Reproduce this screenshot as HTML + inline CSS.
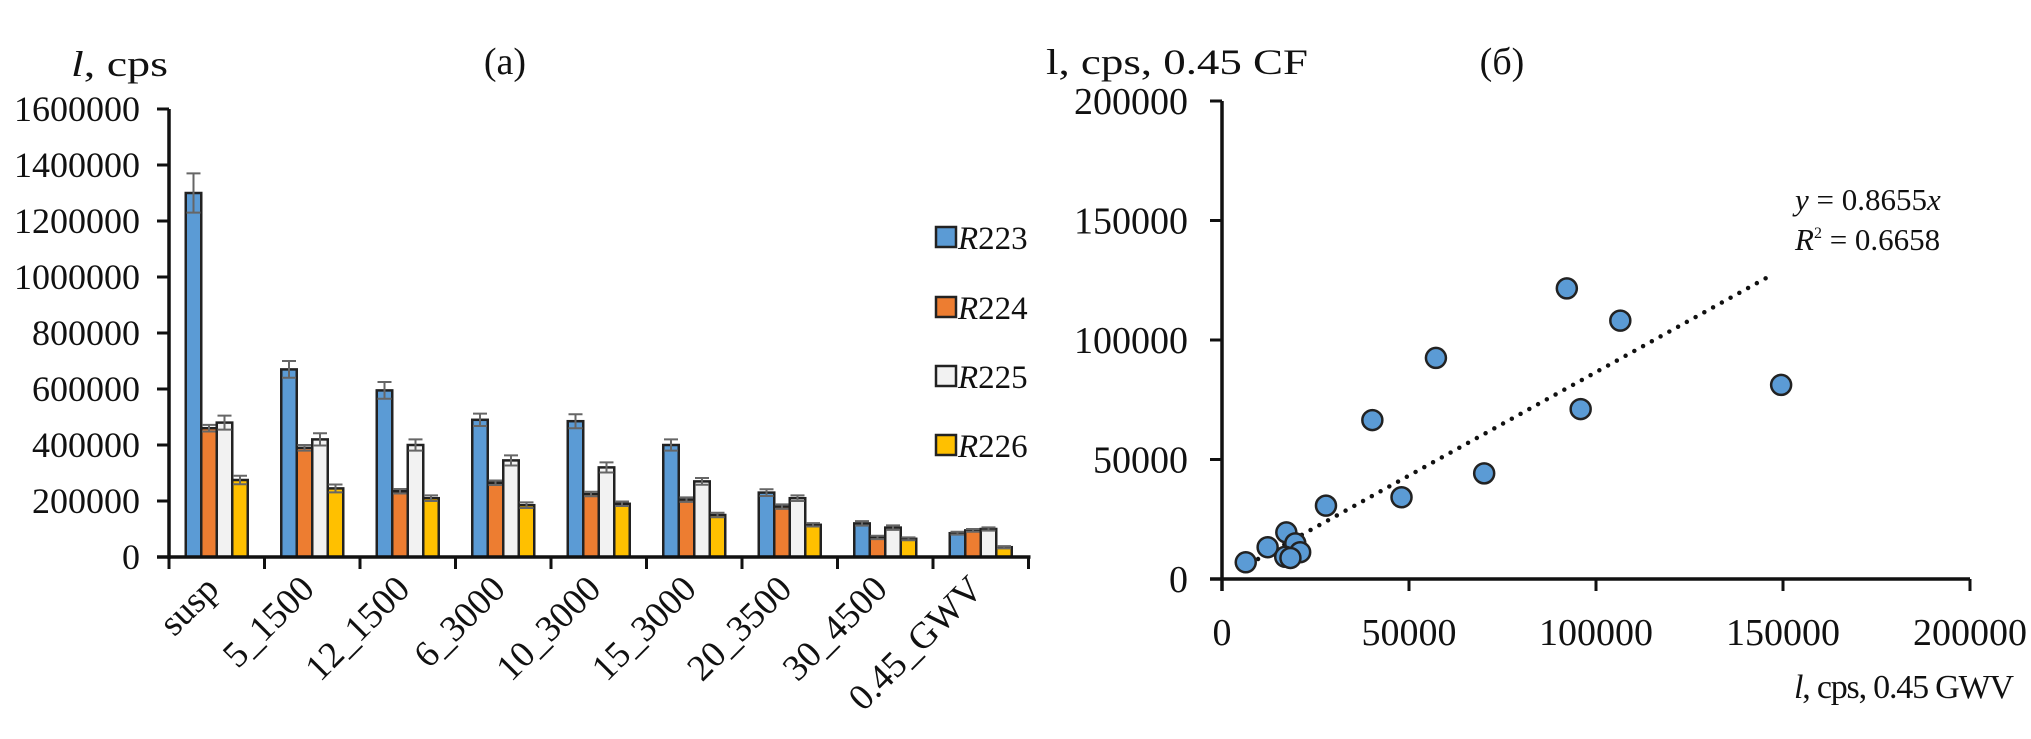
<!DOCTYPE html>
<html><head><meta charset="utf-8"><style>
html,body{margin:0;padding:0;background:#fff;}
svg{display:block;font-family:"Liberation Serif",serif;}
</style></head><body>
<svg id="fig" width="2031" height="739" viewBox="0 0 2031 739" xmlns="http://www.w3.org/2000/svg">
<g id="barChart"></g>
<g id="scatter"></g>
</svg>
<script>
const categories = ["susp","5_1500","12_1500","6_3000","10_3000","15_3000","20_3500","30_4500","0.45_GWV"];
const seriesNames = ["R223","R224","R225","R226"];
const r223 = [1300000,670000,595000,490000,485000,400000,230000,120000,85000];
const r224 = [460000,390000,235000,265000,225000,205000,180000,70000,95000];
const r225 = [480000,420000,400000,345000,320000,270000,210000,105000,100000];
const r226 = [275000,245000,210000,185000,190000,150000,115000,65000,35000];
const err223 = [70000,30000,30000,22000,25000,20000,12000,8000,5000];
const err224 = [12000,10000,8000,8000,8000,8000,8000,6000,5000];
const err225 = [25000,22000,20000,18000,18000,12000,10000,8000,6000];
const err226 = [15000,14000,10000,10000,8000,8000,6000,5000,4000];
const yTicksA = [0,200000,400000,600000,800000,1000000,1200000,1400000,1600000];

const scatterX = [92200,106500,57200,40200,95900,149500,70100,48000,27800,17200,12200,6350,19600,20900,16900,18300];
const scatterY = [121600,108100,92500,66500,71100,81200,44200,34200,30700,19500,13300,7000,14900,11200,9300,8800];
const trendSlope = [0.8655];
const trendRange = [7300,146800];
const ticksB = [0,50000,100000,150000,200000];

const NS="http://www.w3.org/2000/svg";
function mk(parent,tag,attrs,text){const e=document.createElementNS(NS,tag);for(const k in attrs)e.setAttribute(k,attrs[k]);if(text!==undefined)e.textContent=text;parent.appendChild(e);return e;}

// ---- Bar chart ----
const A=document.getElementById('barChart');
const ax0=169, ay0=557, aPxPer=56/200000, catW=95.5, barW=15.5;
const yA=v=>ay0-v*aPxPer;
const xCat=i=>ax0+i*catW;
const colors=["#5b9bd5","#ed7d31","#f2f2f2","#ffc000"];
const vals=[r223,r224,r225,r226], errs=[err223,err224,err225,err226];
for(let s=0;s<4;s++){
  for(let i=0;i<categories.length;i++){
    const x=xCat(i)+catW/2-2*barW+s*barW, v=vals[s][i];
    const r=mk(A,'rect',{x:x,y:yA(v),width:barW,height:ay0-yA(v),fill:colors[s],stroke:"#222","stroke-width":2.5});
    
    
    const cx=x+barW/2, e=errs[s][i];
    const g=mk(A,'path',{d:`M${cx},${yA(v-e)}V${yA(v+e)}M${cx-7},${yA(v+e)}H${cx+7}M${cx-7},${yA(v-e)}H${cx+7}`,stroke:"#666","stroke-width":2,fill:"none"});
    
    
  }
}
let ya=mk(A,'line',{x1:ax0,y1:yA(1600000),x2:ax0,y2:ay0+2,stroke:"#111","stroke-width":3.5});

let xa=mk(A,'line',{x1:ax0-12,y1:ay0,x2:xCat(categories.length)+2,y2:ay0,stroke:"#111","stroke-width":3.5});

yTicksA.forEach(t=>{
  mk(A,'line',{x1:ax0-12,y1:yA(t),x2:ax0,y2:yA(t),stroke:"#111","stroke-width":3});
  const tl=mk(A,'text',{x:140,y:yA(t)+12,"text-anchor":"end","font-size":36,fill:"#111"},String(t));
  
});
for(let i=0;i<=categories.length;i++){
  mk(A,'line',{x1:xCat(i),y1:ay0,x2:xCat(i),y2:ay0+12,stroke:"#111","stroke-width":3});
}
categories.forEach((c,i)=>{
  const cx=xCat(i)+catW/2+4, cy=ay0+34;
  const t=mk(A,'text',{x:cx,y:cy,"text-anchor":"end","font-size":37,fill:"#111",transform:`rotate(-45 ${cx} ${cy})`},c);
  
});
let yt=mk(A,'text',{x:71,y:76,"font-size":36,fill:"#111",textLength:97,lengthAdjust:"spacingAndGlyphs"});

mk(yt,'tspan',{"font-style":"italic"},"l");mk(yt,'tspan',{},",  cps");
let ta=mk(A,'text',{x:505,y:74,"text-anchor":"middle","font-size":38,fill:"#111"},"(a)");

const legY=[237,307,376,445];
seriesNames.forEach((n,s)=>{
  const y=legY[s];
  const g=mk(A,'g',{});
  
  
  mk(g,'rect',{x:936,y:y-10,width:20,height:20,fill:colors[s],stroke:"#222","stroke-width":2.5});
  const t=mk(g,'text',{x:958,y:y+12,"font-size":33,fill:"#111"});
  mk(t,'tspan',{"font-style":"italic"},"R");mk(t,'tspan',{},n.slice(1));
});

// ---- Scatter ----
const B=document.getElementById('scatter');
const bx0=1222, by0=579, bxPer=187/50000, byPer=119.5/50000;
const xB=v=>bx0+v*bxPer, yB=v=>by0-v*byPer;
let yb=mk(B,'line',{x1:bx0,y1:yB(200000),x2:bx0,y2:by0+12,stroke:"#111","stroke-width":3.5});

let xb=mk(B,'line',{x1:bx0-12,y1:by0,x2:xB(200000),y2:by0,stroke:"#111","stroke-width":3.5});

ticksB.forEach(t=>{
  mk(B,'line',{x1:bx0-12,y1:yB(t),x2:bx0,y2:yB(t),stroke:"#111","stroke-width":3});
  mk(B,'line',{x1:xB(t),y1:by0,x2:xB(t),y2:by0+12,stroke:"#111","stroke-width":3});
  const l1=mk(B,'text',{x:1188,y:yB(t)+13,"text-anchor":"end","font-size":38,fill:"#111"},String(t));
  
  const l2=mk(B,'text',{x:xB(t),y:by0+66,"text-anchor":"middle","font-size":38,fill:"#111"},String(t));
  
});
let tr=mk(B,'line',{x1:xB(trendRange[0]),y1:yB(trendRange[0]*trendSlope[0]),x2:xB(trendRange[1]),y2:yB(trendRange[1]*trendSlope[0]),stroke:"#111","stroke-width":4.5,"stroke-dasharray":"0 10","stroke-linecap":"round"});

scatterX.forEach((x,i)=>{
  const c=mk(B,'circle',{cx:xB(x),cy:yB(scatterY[i]),r:10,fill:"#5b9bd5",stroke:"#222","stroke-width":2.5});
  
  
});
let eq=mk(B,'text',{x:1795,y:210,"font-size":31,fill:"#111"});

mk(eq,'tspan',{"font-style":"italic"},"y");mk(eq,'tspan',{}," = 0.8655");mk(eq,'tspan',{"font-style":"italic"},"x");
let r2=mk(B,'text',{x:1795,y:250,"font-size":31,fill:"#111"});

mk(r2,'tspan',{"font-style":"italic"},"R");mk(r2,'tspan',{"font-size":16,dy:-12},"2");mk(r2,'tspan',{dy:12}," = 0.6658");
let ytb=mk(B,'text',{x:1046,y:74,"font-size":36,fill:"#111",textLength:262,lengthAdjust:"spacingAndGlyphs"},"l,  cps,  0.45  CF");

let tb=mk(B,'text',{x:1502,y:74,"text-anchor":"middle","font-size":38,fill:"#111"},"(б)");

let xtb=mk(B,'text',{x:1794,y:698,"font-size":34,fill:"#111",textLength:220,lengthAdjust:"spacing"});

mk(xtb,'tspan',{"font-style":"italic"},"l");mk(xtb,'tspan',{},", cps, 0.45 GWV");
</script>
</body></html>
